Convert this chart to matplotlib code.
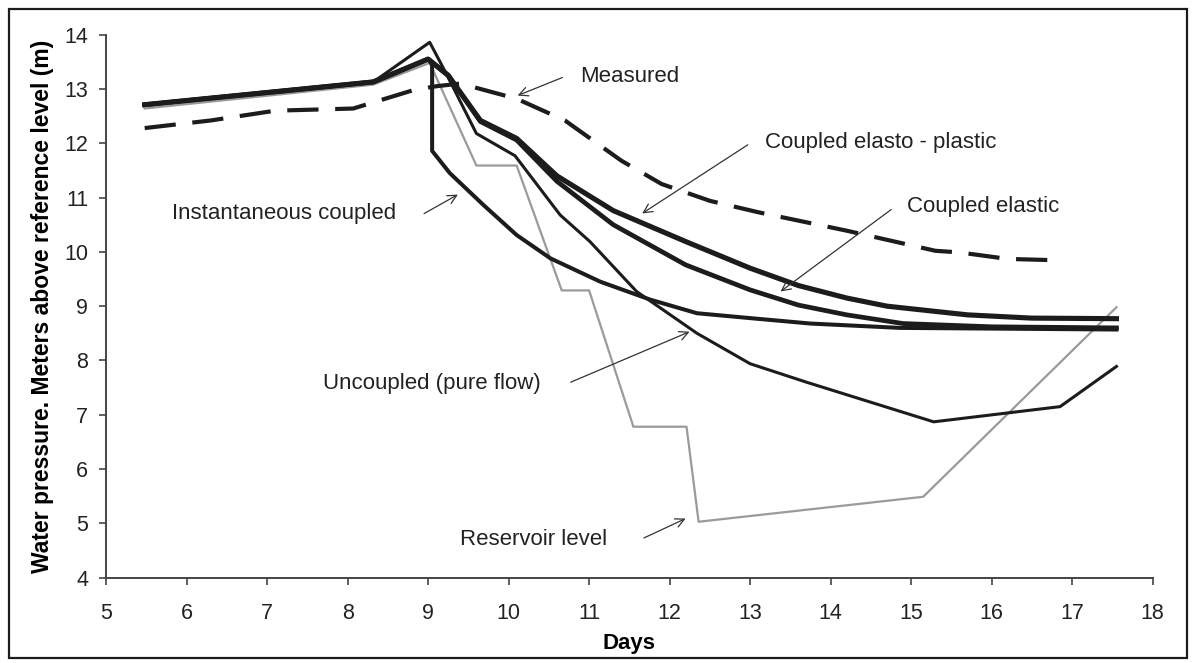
"""Presion de agua frente a dias para los distintos modelos de calculo"""

import matplotlib
matplotlib.use("Agg")
import matplotlib.pyplot as plt
from matplotlib.patches import Rectangle

plt.rcParams['font.family'] = ['Liberation Sans', 'DejaVu Sans']

# Medido (linea discontinua)
dias_medido = [5.48, 6.3, 7.1, 8.07, 8.82, 9.1, 9.4, 10.1, 10.7, 11.4, 11.9,
               12.5, 13.1, 14.2, 15.3, 15.6, 16.2, 16.7]
p_medido = [12.28, 12.42, 12.6, 12.64, 12.98, 13.05, 13.1, 12.82, 12.42, 11.68,
            11.25, 10.94, 10.73, 10.39, 10.02, 9.99, 9.87, 9.85]

# Nivel del embalse
dias_embalse = [5.48, 8.32, 9.02, 9.6, 10.1, 10.66, 11.0, 11.55, 12.21, 12.36,
                15.15, 17.55]
p_embalse = [12.64, 13.08, 13.48, 11.59, 11.59, 9.29, 9.29, 6.78, 6.78, 5.03,
             5.49, 8.98]

# Acoplado elasto-plastico
dias_elastoplast = [5.48, 8.32, 9.0, 9.25, 9.65, 10.1, 10.6, 11.3, 12.2, 13.0,
                    13.6, 14.2, 14.7, 15.7, 16.5, 17.55]
p_elastoplast = [12.71, 13.13, 13.55, 13.25, 12.42, 12.09, 11.4, 10.76, 10.19,
                 9.70, 9.38, 9.15, 9.0, 8.84, 8.78, 8.77]

# Acoplado elastico
dias_elastico = [5.48, 8.32, 9.0, 9.25, 9.65, 10.1, 10.6, 11.3, 12.2, 13.0,
                 13.6, 14.2, 14.9, 16.0, 17.55]
p_elastico = [12.71, 13.13, 13.55, 13.25, 12.40, 12.06, 11.3, 10.50, 9.76,
              9.30, 9.02, 8.84, 8.68, 8.62, 8.60]

# No acoplado (flujo puro)
dias_flujo = [5.48, 8.32, 9.02, 9.23, 9.6, 10.08, 10.64, 11.01, 11.59, 12.34,
              13.0, 13.7, 15.28, 16.85, 17.55]
p_flujo = [12.71, 13.13, 13.86, 13.27, 12.18, 11.77, 10.68, 10.19, 9.27, 8.50,
           7.94, 7.6, 6.87, 7.15, 7.89]

# Acoplado instantaneo
dias_instant = [5.48, 8.32, 9.0, 9.05, 9.05, 9.27, 9.69, 10.10, 10.52, 11.14,
                11.76, 12.34, 13.0, 13.75, 14.86, 17.55]
p_instant = [12.71, 13.13, 13.55, 13.45, 11.86, 11.45, 10.86, 10.31, 9.88,
             9.45, 9.12, 8.87, 8.78, 8.68, 8.60, 8.57]

# Etiquetas: texto, posicion del texto, origen y punta de la flecha
etiquetas = ["Measured", "Coupled elasto - plastic", "Coupled elastic",
             "Instantaneous coupled", "Uncoupled (pure flow)", "Reservoir level"]
pos_texto = [(10.89, 13.23), (13.19, 12.01), (14.95, 10.83),
             (5.82, 10.71), (7.69, 7.58), (9.40, 4.71)]
origen_flecha = [(10.70, 13.23), (13.0, 12.0), (14.78, 10.81),
                 (8.92, 10.68), (10.74, 7.58), (11.65, 4.71)]
punta_flecha = [(10.08, 12.86), (11.63, 10.68), (13.35, 9.24),
                (9.40, 11.08), (12.28, 8.55), (12.23, 5.11)]

negro = '#1c1c1c'

fig = plt.figure(figsize=(11.93, 6.63), dpi=100)
ax = fig.add_axes([0.0889, 0.1287, 0.8773, 0.8190])

# Recuadro exterior de la figura
fig.patches.append(Rectangle((9 / 1193, 5 / 663), 1178 / 1193, 649 / 663,
                             transform=fig.transFigure, fill=False,
                             edgecolor=negro, linewidth=1.6))

ax.plot(dias_embalse, p_embalse, color='#9a9a9a', linewidth=1.6)
ax.plot(dias_instant, p_instant, color=negro, linewidth=2.9)
ax.plot(dias_flujo, p_flujo, color=negro, linewidth=2.2)
ax.plot(dias_elastico, p_elastico, color=negro, linewidth=3.4)
ax.plot(dias_elastoplast, p_elastoplast, color=negro, linewidth=3.7)
ax.plot(dias_medido, p_medido, color=negro, linewidth=3.0, dashes=(7.5, 4))

for texto, pt, po, pf in zip(etiquetas, pos_texto, origen_flecha, punta_flecha):
    ax.text(pt[0], pt[1], texto, fontsize=16, color='#222222',
            ha='left', va='center')
    ax.annotate('', xy=pf, xytext=po,
                arrowprops=dict(arrowstyle='->', color='#333333', lw=0.9,
                                mutation_scale=16))

ax.set_xlim(5, 18)
ax.set_ylim(4, 14)
ax.set_xticks(range(5, 19))
ax.set_yticks(range(4, 15))
ax.tick_params(labelsize=15.5, direction='out', length=5, width=1.2,
               color='#444444', labelcolor='#222222')
ax.tick_params(axis='x', pad=13)
ax.tick_params(axis='y', pad=8)

for lado in ['top', 'right']:
    ax.spines[lado].set_visible(False)
for lado in ['left', 'bottom']:
    ax.spines[lado].set_color('#444444')
    ax.spines[lado].set_linewidth(1.4)

ax.set_xlabel("Days", fontsize=16, fontweight='bold', labelpad=7)
ax.set_ylabel("Water pressure. Meters above reference level (m)",
              fontsize=16.5, fontweight='bold', labelpad=7)

fig.savefig("out.png", dpi=100)
